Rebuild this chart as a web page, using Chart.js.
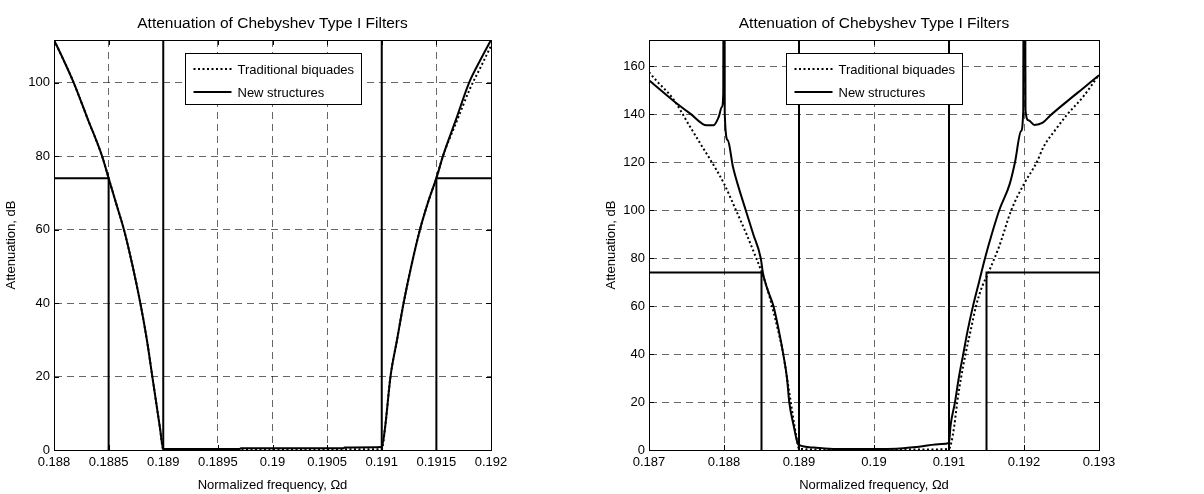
<!DOCTYPE html>
<html>
<head>
<meta charset="utf-8">
<title>Attenuation of Chebyshev Type I Filters</title>
<script src="https://cdn.jsdelivr.net/npm/chart.js@4.4.1/dist/chart.umd.min.js"></script>
<style>
  html, body { margin: 0; padding: 0; background: #fff; }
  #wrap { position: relative; width: 1204px; height: 494px; overflow: hidden; }
  .pane { position: absolute; top: 0; height: 494px; }
</style>
</head>
<body>
<div id="wrap">
  <div class="pane" style="left:0;width:600px"><canvas id="narrow" width="600" height="494"></canvas></div>
  <div class="pane" style="left:600px;width:604px"><canvas id="wide" width="604" height="494"></canvas></div>
</div>
<script>
// ---- Text ----
const chartTitle = 'Attenuation of Chebyshev Type I Filters';
const xAxisTitle = 'Normalized frequency, \u03A9d';
const yAxisTitle = 'Attenuation, dB';
const seriesNames = ['Traditional biquades', 'New structures'];

// ---- Specification mask (both filters) ----
const stopbandMinAtt = [74];

// ---- Narrow view: 0.188 .. 0.192 ----
const narrowXTicks = [0.188, 0.1885, 0.189, 0.1895, 0.19, 0.1905, 0.191, 0.1915, 0.192];
const narrowYTicks = [0, 20, 40, 60, 80, 100];
const narrowYRange = [0, 111.6];
const narrowStopEdges = [0.1885, 0.1915];
const narrowPassEdges = [0.189, 0.191];

const narrowFreqTrad = [0.188, 0.18809, 0.18818, 0.18831, 0.18844, 0.1885, 0.18857, 0.18864, 0.18872, 0.18879,
  0.18885, 0.1889, 0.18894, 0.18897, 0.189, 0.1895, 0.19, 0.1905, 0.191, 0.19103, 0.19108, 0.19114, 0.1912,
  0.19127, 0.19135, 0.19143, 0.1915, 0.19156, 0.19168, 0.19181, 0.19191, 0.192];
const narrowAttTrad = [111.6, 106, 100, 90, 80, 74, 67, 60, 50, 40,
  30, 20, 12, 6, 0.2, 0.2, 0.2, 0.2, 0.2, 6, 20, 30, 40,
  50, 60, 68, 74, 80, 89, 98.5, 104.5, 110];

const narrowFreqNew = [0.188, 0.18809, 0.18818, 0.18831, 0.18844, 0.1885, 0.18857, 0.18864, 0.18872, 0.18879,
  0.18885, 0.1889, 0.18894, 0.18897, 0.189, 0.1897, 0.18971, 0.19065, 0.19066, 0.191, 0.19103, 0.19108,
  0.19114, 0.1912, 0.19127, 0.19135, 0.19143, 0.1915, 0.19156, 0.19168, 0.1918, 0.1919, 0.192];
const narrowAttNew = [111.6, 106, 100, 90, 80, 74, 67, 60, 50, 40,
  30, 20, 12, 6, 0.3, 0.3, 0.45, 0.45, 0.7, 0.8, 6, 20,
  30, 40, 50, 60, 68, 74, 80, 90, 100, 106, 111.6];

// ---- Wide view: 0.187 .. 0.193 ----
const wideXTicks = [0.187, 0.188, 0.189, 0.19, 0.191, 0.192, 0.193];
const wideYTicks = [0, 20, 40, 60, 80, 100, 120, 140, 160];
const wideYRange = [0, 171];
const wideStopEdges = [0.1885, 0.1915];
const widePassEdges = [0.189, 0.191];

const wideFreqTrad = [0.187, 0.1871, 0.18732, 0.18755, 0.1877, 0.18785, 0.188, 0.18816, 0.1883, 0.18843,
  0.18851, 0.18858, 0.18864, 0.18872, 0.18879, 0.18884, 0.18889, 0.18894, 0.18898, 0.189,
  0.1893, 0.19, 0.1907, 0.191, 0.19103, 0.19107, 0.19111, 0.19116, 0.19122, 0.19129, 0.19136,
  0.19144, 0.19152, 0.19167, 0.19183, 0.192, 0.19217, 0.19226, 0.19243, 0.19257, 0.19279, 0.193];
const wideAttTrad = [157.6, 154, 146.5, 134.7, 127, 119.4, 111.1, 100, 90, 80,
  73.6, 67, 60, 50, 40, 30, 20, 10, 3, 0.5,
  0.2, 0.2, 0.2, 0.5, 3, 10, 20, 30, 40, 50, 60,
  68, 73.6, 85, 100, 111, 120, 126.4, 134, 139.7, 147.4, 156.5];

const wideFreqNew = [0.187, 0.18732, 0.18755, 0.18777, 0.18786, 0.18793, 0.18797, 0.18799, 0.188, 0.18801,
  0.18805, 0.18812, 0.1882, 0.18829, 0.18839, 0.18849, 0.18852, 0.18858, 0.18866, 0.18873, 0.18879,
  0.18884, 0.18887, 0.18893, 0.18898, 0.189, 0.1892, 0.1895, 0.19, 0.1903, 0.1906, 0.1909, 0.191,
  0.19102, 0.19108, 0.19113, 0.19119, 0.19125, 0.19132, 0.1914, 0.19148, 0.19157, 0.19167, 0.19181,
  0.19188, 0.19196, 0.19199, 0.192, 0.19202, 0.19206, 0.19214, 0.19225, 0.19235, 0.19257, 0.19279, 0.193];
const wideAttNew = [154.2, 145.8, 140.3, 135.4, 135.4, 138.9, 143, 148.6, 400, 140.3,
  129.2, 118, 109, 100, 90, 80, 73.6, 67, 60, 50, 40,
  30, 20, 10, 3, 2.1, 1.0, 0.4, 0.4, 0.5, 1.4, 2.5, 3.0,
  10, 20, 30, 40, 50, 60, 70, 80, 90, 100, 111,
  120, 133, 141.7, 400, 141.7, 137.5, 135.6, 136.5, 139.5, 145.3, 150.9, 156.3];

// ---- Helpers ----
const FONT = '"Liberation Sans", Arial, Helvetica, sans-serif';
const LABEL_SIZE = 13;
const toPoints = (xs, ys) => xs.map((x, i) => ({ x, y: ys[i] }));
const fmt = v => String(Number(Number(v).toFixed(5)));

function maskDatasets(xTicks, yRange, stopEdges, passEdges) {
  const xMin = xTicks[0], xMax = xTicks[xTicks.length - 1];
  const a = stopbandMinAtt[0];
  const top = yRange[1];
  const seg = pts => ({
    data: pts, borderColor: '#000', borderWidth: 2, pointRadius: 0,
    fill: false, tension: 0, isMask: true
  });
  return [
    seg([{ x: xMin, y: a }, { x: stopEdges[0], y: a }, { x: stopEdges[0], y: 0 }]),
    seg([{ x: passEdges[0], y: 0 }, { x: passEdges[0], y: top }]),
    seg([{ x: passEdges[1], y: 0 }, { x: passEdges[1], y: top }]),
    seg([{ x: stopEdges[1], y: 0 }, { x: stopEdges[1], y: a }, { x: xMax, y: a }])
  ];
}

// Box frame with inward tick marks on all four sides
const framePlugin = {
  id: 'frame',
  afterDraw(chart) {
    const { ctx, chartArea: ca, scales } = chart;
    ctx.save();
    ctx.strokeStyle = '#000';
    ctx.lineWidth = 1;
    ctx.setLineDash([]);
    ctx.strokeRect(Math.round(ca.left) + 0.5, Math.round(ca.top) + 0.5,
      Math.round(ca.right - ca.left), Math.round(ca.bottom - ca.top));
    const tl = 5;
    ctx.beginPath();
    scales.x.ticks.forEach(t => {
      const px = Math.round(scales.x.getPixelForValue(t.value)) + 0.5;
      ctx.moveTo(px, ca.bottom); ctx.lineTo(px, ca.bottom - tl);
      ctx.moveTo(px, ca.top); ctx.lineTo(px, ca.top + tl);
    });
    scales.y.ticks.forEach(t => {
      const py = Math.round(scales.y.getPixelForValue(t.value)) + 0.5;
      ctx.moveTo(ca.left, py); ctx.lineTo(ca.left + tl, py);
      ctx.moveTo(ca.right, py); ctx.lineTo(ca.right - tl, py);
    });
    ctx.stroke();
    ctx.restore();
  }
};

// Boxed legend inside the plot, top centre
const boxLegendPlugin = {
  id: 'boxLegend',
  afterDraw(chart) {
    const { ctx, chartArea: ca } = chart;
    const items = chart.data.datasets.filter(d => !d.isMask);
    const w = 176, h = 51;
    const left = Math.round((ca.left + ca.right) / 2 - w / 2) + 0.5;
    const top = Math.round(ca.top + 13) + 0.5;
    ctx.save();
    ctx.fillStyle = '#fff';
    ctx.fillRect(left, top, w, h);
    ctx.strokeStyle = '#000';
    ctx.lineWidth = 1;
    ctx.setLineDash([]);
    ctx.strokeRect(left, top, w, h);
    ctx.font = LABEL_SIZE + 'px ' + FONT;
    ctx.textBaseline = 'middle';
    ctx.textAlign = 'left';
    items.forEach((d, i) => {
      const y = Math.round(top + 15 + i * 23);
      ctx.beginPath();
      ctx.strokeStyle = d.borderColor;
      ctx.lineWidth = d.borderWidth;
      ctx.setLineDash(d.borderDash || []);
      ctx.moveTo(left + 8, y); ctx.lineTo(left + 46, y);
      ctx.stroke();
      ctx.fillStyle = '#000';
      ctx.fillText(d.label, left + 52, y + 1);
    });
    ctx.restore();
  }
};

function makeChart(id, cfg) {
  const gridStyle = { color: 'rgba(0,0,0,0.6)', lineWidth: 1, drawTicks: false };
  const borderStyle = { display: true, color: '#000', width: 1, dash: [7, 5] };
  const curve = {
    borderColor: '#000', borderWidth: 2, pointRadius: 0, fill: false,
    cubicInterpolationMode: 'monotone'
  };
  return new Chart(document.getElementById(id), {
    type: 'line',
    data: {
      datasets: [
        { ...curve, label: seriesNames[0], data: toPoints(cfg.freqTrad, cfg.attTrad), borderDash: [2, 2.5] },
        { ...curve, label: seriesNames[1], data: toPoints(cfg.freqNew, cfg.attNew) },
        ...maskDatasets(cfg.xTicks, cfg.yRange, cfg.stopEdges, cfg.passEdges)
      ]
    },
    options: {
      responsive: false,
      animation: false,
      events: [],
      layout: { padding: { left: 0, right: cfg.padRight, top: 0, bottom: 0 } },
      plugins: {
        legend: { display: false },
        tooltip: { enabled: false },
        title: {
          display: true, text: chartTitle, color: '#000', fullSize: false,
          font: { family: FONT, size: 15.5, weight: 'normal', lineHeight: 1.2 },
          padding: { top: 14, bottom: 7.4 }
        }
      },
      scales: {
        x: {
          type: 'linear',
          min: cfg.xTicks[0], max: cfg.xTicks[cfg.xTicks.length - 1],
          afterBuildTicks: s => { s.ticks = cfg.xTicks.map(v => ({ value: v })); },
          afterFit: s => { s.height = 44; },
          ticks: {
            color: '#000', padding: 5, maxRotation: 0, autoSkip: false,
            font: { family: FONT, size: LABEL_SIZE }, callback: v => fmt(v)
          },
          grid: gridStyle,
          border: borderStyle,
          title: {
            display: true, text: xAxisTitle, color: '#000',
            font: { family: FONT, size: LABEL_SIZE }, padding: { top: 0, bottom: 1 }
          }
        },
        y: {
          type: 'linear',
          min: cfg.yRange[0], max: cfg.yRange[1],
          afterBuildTicks: s => { s.ticks = cfg.yTicks.map(v => ({ value: v })); },
          afterFit: s => { s.width = cfg.yWidth; },
          ticks: {
            color: '#000', padding: 4, autoSkip: false,
            font: { family: FONT, size: LABEL_SIZE }, callback: v => fmt(v)
          },
          grid: gridStyle,
          border: borderStyle,
          title: {
            display: true, text: yAxisTitle, color: '#000',
            font: { family: FONT, size: LABEL_SIZE }, padding: { top: 4, bottom: 0 }
          }
        }
      }
    },
    plugins: [framePlugin, boxLegendPlugin]
  });
}

makeChart('narrow', {
  xTicks: narrowXTicks, yTicks: narrowYTicks, yRange: narrowYRange,
  stopEdges: narrowStopEdges, passEdges: narrowPassEdges,
  freqTrad: narrowFreqTrad, attTrad: narrowAttTrad,
  freqNew: narrowFreqNew, attNew: narrowAttNew,
  yWidth: 54, padRight: 109
});

makeChart('wide', {
  xTicks: wideXTicks, yTicks: wideYTicks, yRange: wideYRange,
  stopEdges: wideStopEdges, passEdges: widePassEdges,
  freqTrad: wideFreqTrad, attTrad: wideAttTrad,
  freqNew: wideFreqNew, attNew: wideAttNew,
  yWidth: 49, padRight: 105
});
</script>
</body>
</html>
